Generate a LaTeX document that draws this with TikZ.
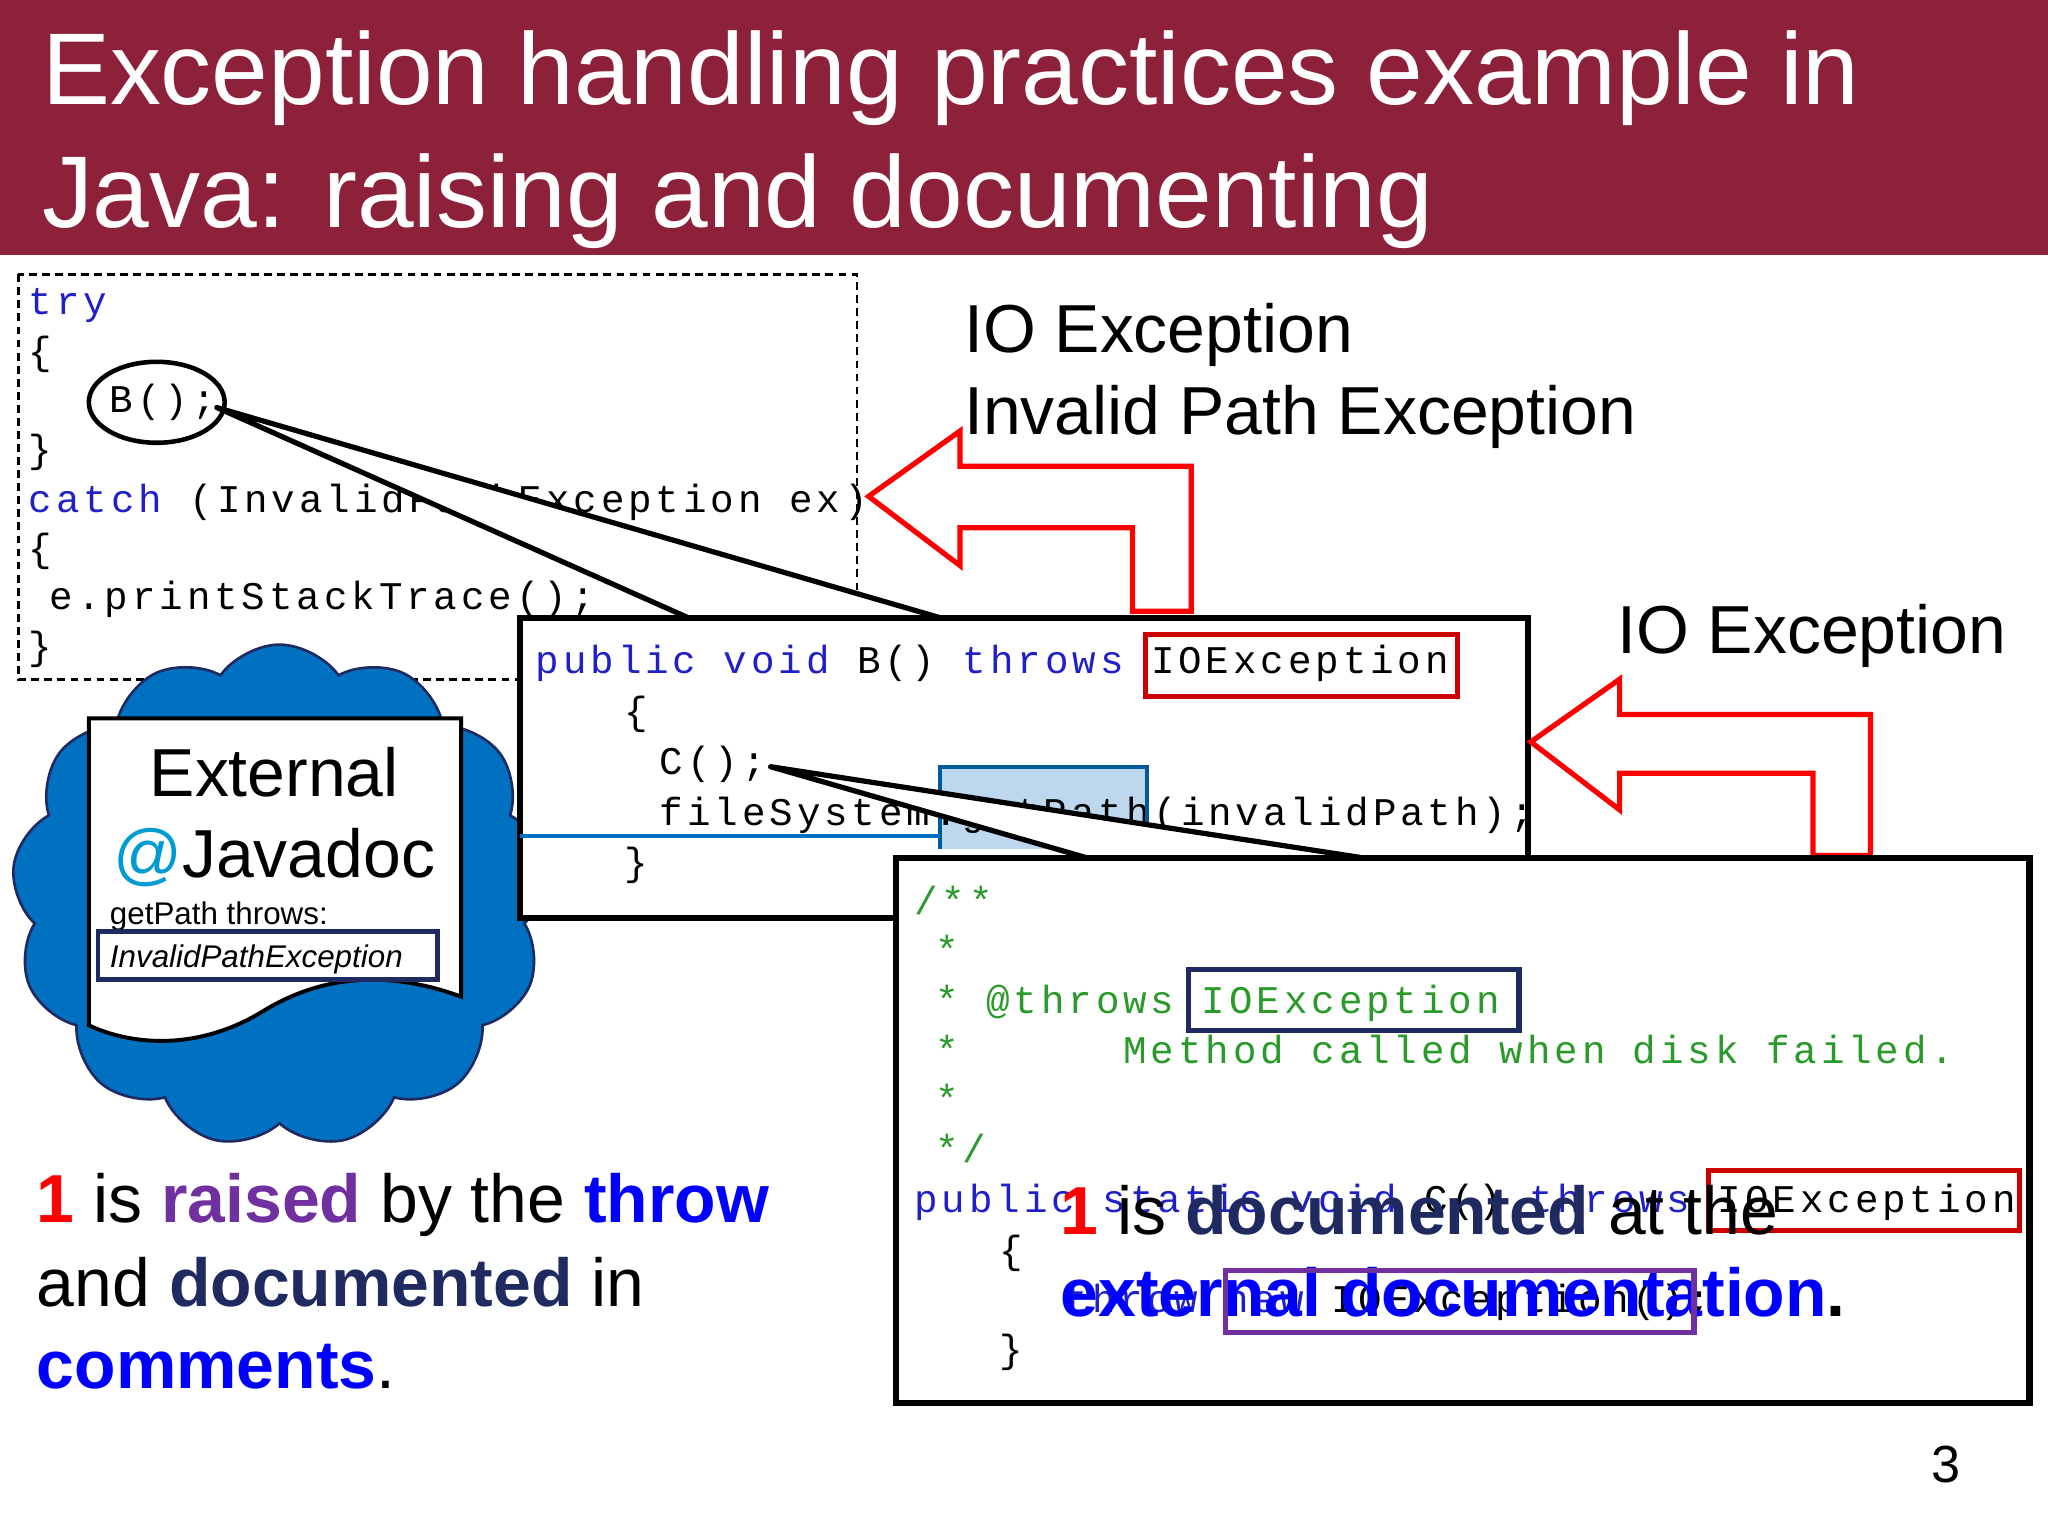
\documentclass[tikz,border=0pt]{standalone}
\usepackage{fontspec}
\setmainfont{Liberation Sans}
\setmonofont[LetterSpace=10]{Liberation Mono}
\usetikzlibrary{shapes.symbols}
\definecolor{titlered}{HTML}{8E213A}
\definecolor{kwblue}{HTML}{2020C8}
\definecolor{cgreen}{HTML}{2A9A2A}
\definecolor{navy}{HTML}{1F2A60}
\definecolor{purp}{HTML}{7030A0}
\definecolor{cloudblue}{HTML}{0070C0}
\definecolor{lightblue}{HTML}{BDD7EE}
\begin{document}
\begin{tikzpicture}[x=1pt,y=-1pt,
  code/.style={anchor=base west,inner sep=0,font=\fontsize{30}{30}\ttfamily},
  big/.style={anchor=base west,inner sep=0,font=\fontsize{52}{52}\selectfont},
  redarrow/.style={draw=red,line width=4pt,fill=white,line join=miter},
  panel/.style={draw=black,line width=5pt,fill=white},
  callout/.style={draw=black,line width=4pt,fill=white,line join=round}]
\useasboundingbox (0,0) rectangle (1568,1176);
\fill[white] (0,0) rectangle (1568,1176);
% title
\fill[titlered] (0,0) rectangle (1568,195);
\node[anchor=base west,inner sep=0,text=white,font=\fontsize{78}{78}\selectfont] (t1) at (32,80) {Exception handling practices example in};
\node[anchor=base west,inner sep=0,text=white,font=\fontsize{78}{78}\selectfont] (t2) at (32,174) {Java: raising and documenting};
% dashed code box
\draw[line width=2pt,dash pattern=on 6pt off 4pt] (14,210) rectangle (656,520);
\node[code,text=kwblue] (c1) at (22,241) {try};
\node[code] (c2) at (22,279) {\{};
\node[code] (c3) at (84,316) {B();};
\draw[line width=3.5pt] (120,308) ellipse (52 and 31);
\node[code] (c4) at (22,354) {\}};
\node[code] (c5) at (22,392) {\textcolor{kwblue}{catch} (InvalidPathException ex)};
\node[code] (c6) at (22,430) {\{};
\node[code] (c7) at (38,467) {e.printStackTrace();};
\node[code] (c8) at (22,505) {\}};
% callout to B
\coordinate (bp) at (166,312);
\path[callout] (bp) -- (527,473) -- (720,473) -- cycle;
% red arrow 1
\draw[redarrow] (665,380) -- (735,330) -- (735,357) -- (912,357) -- (912,468) -- (867,468) -- (867,404) -- (735,404) -- (735,433) -- cycle;
\node[big] (io1) at (738,270) {IO Exception};
\node[big] (ip1) at (738,333) {Invalid Path Exception};
% cloud
\node[cloud,cloud puffs=13,cloud puff arc=110,aspect=1.1,draw=navy,line width=2pt,fill=cloudblue,minimum width=410,minimum height=385] (cl) at (214,686) {};
% box B
\draw[panel] (398,473) rectangle (1170,703);
\node[code] (b1) at (410,516) {\textcolor{kwblue}{public void} B() \textcolor{kwblue}{throws} IOException};
\draw[draw=red!80!black,line width=4pt] (877,486) rectangle (1116,533);
\node[code] (b2) at (478,555) {\{};
\fill[lightblue] (720,587) rectangle (878,650);
\node[code] (b3) at (505,593) {C();};
\node[code] (b4) at (505,632) {fileSystem.getPath(invalidPath);};
\draw[cloudblue!80!black,line width=3pt] (720,650) -- (720,587) -- (878,587) -- (878,650);
\draw[cloudblue,line width=3pt] (398,640) -- (720,640);
\node[code] (b5) at (478,670) {\}};
% document in cloud
\path[draw=black,line width=3pt,fill=white] (68,550) -- (353,550) -- (353,763) .. controls (290,740) and (240,750) .. (200,775) .. controls (150,805) and (100,800) .. (68,785) -- cycle;
\node[anchor=base,inner sep=0,font=\fontsize{52}{52}\selectfont] (ex) at (210,610) {External};
\node[anchor=base,inner sep=0,font=\fontsize{52}{52}\selectfont] (jd) at (210,672) {\textcolor{cloudblue!70!cyan}{@}Javadoc};
\node[anchor=base west,inner sep=0,font=\fontsize{24}{24}\selectfont] (gp) at (84,708) {getPath throws:};
\draw[navy,line width=3.5pt] (75,713) rectangle (335,750);
\node[anchor=base west,inner sep=0,font=\fontsize{24}{24}\itshape] (ipe) at (84,741) {InvalidPathException};
% callout to C
\coordinate (cp) at (590,587);
\path[callout] (cp) -- (833,657) -- (1045,657) -- cycle;
% red arrow 2
\draw[redarrow] (1172,568) -- (1240,520) -- (1240,547) -- (1432,547) -- (1432,655) -- (1388,655) -- (1388,592) -- (1240,592) -- (1240,620) -- cycle;
\node[big] (io2) at (1238,500) {IO Exception};
% box C
\draw[panel] (686,657) rectangle (1554,1074);
\node[code,text=cgreen] (d1) at (700,700) {/**};
\node[code,text=cgreen] (d2) at (716,738) {*};
\node[code,text=cgreen] (d3) at (716,776) {* @throws IOException};
\draw[navy,line width=4pt] (910,742) rectangle (1163,789);
\node[code,text=cgreen] (d4) at (716,814) {*\ \ \ \ \ \ Method called when disk failed.};
\node[code,text=cgreen] (d5) at (716,852) {*};
\node[code,text=cgreen] (d6) at (716,890) {*/};
\node[code] (d7) at (700,928) {\textcolor{kwblue}{public static void} C() \textcolor{kwblue}{throws} IOException};
\draw[draw=red!80!black,line width=4pt] (1308,896) rectangle (1546,942);
\node[code] (d8) at (765,967) {\{};
\node[code] (d9) at (815,1005) {\textcolor{kwblue}{throw new} IOException();};
\node[code] (d10) at (765,1043) {\}};
\node[anchor=base west,inner sep=0,font=\fontsize{52}{52}\selectfont] (o1) at (812,945) {\textbf{\textcolor{red}{1}} is \textbf{\textcolor{navy}{documented}} at the};
\node[anchor=base west,inner sep=0,font=\fontsize{52}{52}\bfseries] (o2) at (812,1008) {\textcolor{blue}{external documentation}\textcolor{black}{.}};
\draw[purp,line width=4pt] (938,973) rectangle (1297,1020);
% bottom-left text
\node[anchor=base west,inner sep=0,font=\fontsize{52}{52}\selectfont] (l1) at (28,936) {\textbf{\textcolor{red}{1}} is \textbf{\textcolor{purp}{raised}} by the \textbf{\textcolor{blue}{throw}}};
\node[anchor=base west,inner sep=0,font=\fontsize{52}{52}\selectfont] (l2) at (28,1000) {and \textbf{\textcolor{navy}{documented}} in};
\node[anchor=base west,inner sep=0,font=\fontsize{52}{52}\selectfont] (l3) at (28,1063) {\textbf{\textcolor{blue}{comments}}.};
\node[anchor=base,inner sep=0,font=\fontsize{40}{40}\selectfont] (pg) at (1490,1135) {3};
\end{tikzpicture}
\end{document}
